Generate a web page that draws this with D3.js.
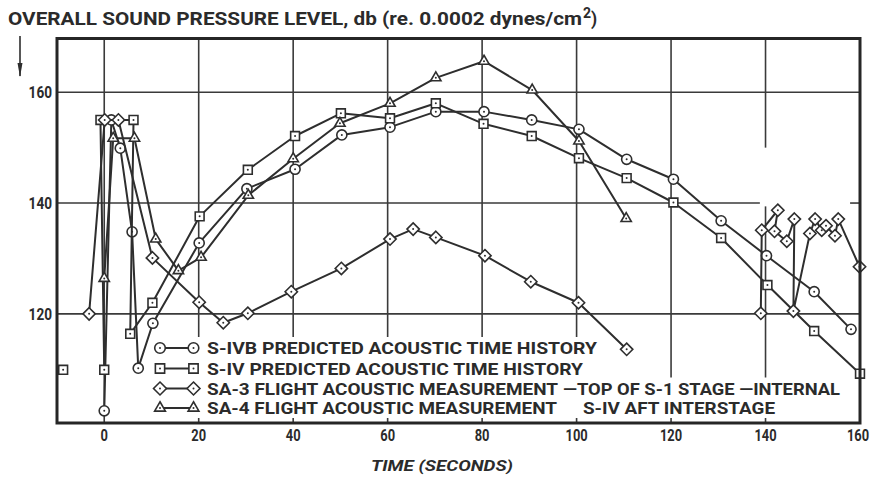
<!DOCTYPE html>
<html>
<head>
<meta charset="utf-8">
<script src="https://cdn.jsdelivr.net/npm/d3@7"></script>
<style>
  body { margin: 0; background: #fff; }
  svg text {
    font-family: Roboto, 'Liberation Sans', sans-serif;
    font-weight: bold;
    fill: #2b2b2b;
  }
</style>
</head>
<body>
<svg width="873" height="477"></svg>
<script>
// [time (s), overall SPL (db)] -- null breaks a line
const sIVB = [
  [0, 102.5], [1.5, 155], [3.4, 149.9], [5.9, 134.8], [7.2, 110.2], [10.3, 118.3],
  [20.1, 132.8], [30.2, 142.6], [40.4, 146.1], [50.3, 152.3], [60.5, 153.7],
  [70.2, 156.5], [80.4, 156.5], [90.5, 155], [100.5, 153.3], [110.6, 147.9],
  [120.5, 144.3], [130.6, 136.8], [140.2, 130.5], [150.3, 124], [158.1, 117.2]
]
const sIV = [
  [-8.7, 109.9], null,
  [0, 109.9], [-0.8, 155], [6.2, 155], [5.5, 116.4], [10.2, 122],
  [20.2, 137.6], [30.4, 146], [40.4, 152.1], [50.1, 156.2], [60.5, 155.3],
  [70.2, 158], [80.3, 154.3], [90.5, 152.1], [100.5, 148.1], [110.6, 144.5],
  [120.5, 140.1], [130.6, 133.7], [140.4, 125.2], [150.3, 116.9], [160, 109.2]
]
const sa3 = [
  [-3.2, 120], [0.1, 155], [3, 155], [10.2, 130.1], [20.1, 122.1], [25.2, 118.4],
  [30.4, 120.1], [39.6, 124], [50.2, 128.2], [60.5, 133.5], [65.4, 135.3],
  [70.2, 133.8], [80.6, 130.5], [90.3, 125.8], [100.4, 122], [110.6, 113.6], null,
  [139, 120.1], [139.2, 135.1], [142.6, 138.7], [141.9, 134.9], [144.5, 133.1],
  [146.1, 137.1], [145.9, 120.5], [149.4, 134.5], [150.5, 137.1], [151.9, 135.1],
  [152.8, 135.9], [154.7, 134.1], [155.4, 137.1], [159.9, 128.5]
]
const sa4 = [
  [0, 126.4], [1.9, 151.7], [6.4, 151.7], [10.9, 133.5], [15.7, 127.8], [20.5, 130.2],
  [30.5, 141.4], [40, 148], [49.9, 154.4], [60.5, 158], [70.2, 162.6], [80.4, 165.6],
  [90.6, 160.4], [100.5, 151.2], [110.5, 137.2]
]

const xTicks = [0, 20, 40, 60, 80, 100, 120, 140, 160]
const yTicks = [120, 140, 160]
const gridX = [0, 20, 40, 60, 80, 100, 120, 140]
const gridY = [120, 140, 160]
// pieces of grid that are blank in the original
const gridGaps = [
  { dir: 'v', at: 140, from: 139.4, to: 150 },
  { dir: 'h', at: 140, from: 138.8, to: 157.9 }
]

const legendLabels = [
  ['S-IVB PREDICTED ACOUSTIC TIME HISTORY'],
  ['S-IV PREDICTED ACOUSTIC TIME HISTORY'],
  ['SA-3 FLIGHT ACOUSTIC MEASUREMENT', '\u2014TOP OF S-1 STAGE \u2014INTERNAL'],
  ['SA-4 FLIGHT ACOUSTIC MEASUREMENT', 'S-IV AFT INTERSTAGE']
]

const titleText = 'OVERALL SOUND PRESSURE LEVEL, db (re. 0.0002 dynes/cm'
const xTitle = 'TIME (SECONDS)'

const svg = d3.select('svg')
const ink = '#2e2e2e'

const x = d3.scaleLinear().domain([-10, 160]).range([57, 860])
const y = d3.scaleLinear().domain([100.3, 169.7]).range([423, 38.5])
const [x0, x1] = x.domain()
const [y0, y1] = y.domain()

const diamond = {
  draw(ctx, size) {
    const r = Math.sqrt(size / 2)
    ctx.moveTo(0, -r)
    ctx.lineTo(r, 0)
    ctx.lineTo(0, r)
    ctx.lineTo(-r, 0)
    ctx.closePath()
  }
}

const series = [
  { data: sIVB, type: d3.symbolCircle, size: 80 },
  { data: sIV, type: d3.symbolSquare, size: 78 },
  { data: sa3, type: diamond, size: 76 },
  { data: sa4, type: d3.symbolTriangle, size: 46 }
]

// grid
function pieces(dir, at, lo, hi) {
  const gap = gridGaps.find(g => g.dir === dir && g.at === at)
  return gap ? [[lo, gap.from], [gap.to, hi]] : [[lo, hi]]
}
const grid = svg.append('g').attr('stroke', '#3a3a3a').attr('stroke-width', 1.6)
gridX.forEach(t => {
  pieces('v', t, y0, y1).forEach(p => {
    grid.append('line')
      .attr('x1', x(t)).attr('x2', x(t))
      .attr('y1', y(p[0])).attr('y2', y(p[1]))
  })
})
gridY.forEach(v => {
  pieces('h', v, x0, x1).forEach(p => {
    grid.append('line')
      .attr('y1', y(v)).attr('y2', y(v))
      .attr('x1', x(p[0])).attr('x2', x(p[1]))
  })
})

// legend (white boxes knock out the grid behind the lettering)
const rowY = [348, 368.5, 388.5, 408]
const spans = [[[207, 597]], [[207, 583]], [[207, 558], [563, 840]], [[207, 557], [583, 775]]]
const legend = svg.append('g')
legendLabels.forEach((parts, i) => {
  const cy = rowY[i]
  const end = spans[i][spans[i].length - 1][1]
  legend.append('rect')
    .attr('x', 150).attr('y', cy - 11)
    .attr('width', end + 4 - 150).attr('height', 21)
    .attr('fill', '#fff')
})
legendLabels.forEach((parts, i) => {
  const cy = rowY[i]
  const s = series[i]
  legend.append('line')
    .attr('x1', 160).attr('x2', 193.5)
    .attr('y1', cy).attr('y2', cy)
    .attr('stroke', ink).attr('stroke-width', 2)
  ;[160, 193.5].forEach(cx => {
    legend.append('path')
      .attr('d', d3.symbol().type(s.type).size(s.size * 1.1)())
      .attr('transform', `translate(${cx},${cy})`)
      .attr('fill', '#fff').attr('stroke', ink).attr('stroke-width', 1.6)
    legend.append('circle')
      .attr('cx', cx).attr('cy', cy).attr('r', 1).attr('fill', ink)
  })
  parts.forEach((txt, j) => {
    const [a, b] = spans[i][j]
    legend.append('text')
      .attr('x', a).attr('y', cy + 6.2)
      .attr('font-size', 16.5)
      .attr('textLength', b - a)
      .attr('lengthAdjust', 'spacingAndGlyphs')
      .text(txt)
  })
})

// data lines and markers
const line = d3.line()
  .defined(d => d)
  .x(d => x(d[0]))
  .y(d => y(d[1]))

series.forEach(s => {
  svg.append('path')
    .attr('d', line(s.data))
    .attr('fill', 'none')
    .attr('stroke', ink)
    .attr('stroke-width', 2)
    .attr('stroke-linejoin', 'round')

  const g = svg.append('g')
    .selectAll('g')
    .data(s.data.filter(d => d))
    .enter()
    .append('g')
    .attr('transform', d => `translate(${x(d[0])},${y(d[1])})`)
  g.append('path')
    .attr('d', d3.symbol().type(s.type).size(s.size)())
    .attr('fill', '#fff')
    .attr('stroke', ink)
    .attr('stroke-width', 1.6)
  g.append('circle').attr('r', 1).attr('fill', ink)
})

// frame
svg.append('rect')
  .attr('x', x(x0)).attr('y', y(y1))
  .attr('width', x(x1) - x(x0)).attr('height', y(y0) - y(y1))
  .attr('fill', 'none').attr('stroke', '#262626').attr('stroke-width', 3)

// tick labels (condensed figures)
const digitW = 7.4
svg.append('g')
  .selectAll('text')
  .data(yTicks)
  .enter()
  .append('text')
  .attr('x', 52)
  .attr('y', d => y(d) + 6)
  .attr('text-anchor', 'end')
  .attr('font-size', 16.5)
  .attr('textLength', d => String(d).length * 7.8)
  .attr('lengthAdjust', 'spacingAndGlyphs')
  .text(d => d)

svg.append('g')
  .selectAll('text')
  .data(xTicks)
  .enter()
  .append('text')
  .attr('x', d => Math.min(x(d), 858))
  .attr('y', 441)
  .attr('text-anchor', 'middle')
  .attr('font-size', 16)
  .attr('textLength', d => String(d).length * digitW)
  .attr('lengthAdjust', 'spacingAndGlyphs')
  .text(d => d)

// titles
svg.append('text')
  .attr('x', 8).attr('y', 25)
  .attr('font-size', 17.5)
  .attr('textLength', 574)
  .attr('lengthAdjust', 'spacingAndGlyphs')
  .text(titleText)
svg.append('text').attr('x', 583).attr('y', 18).attr('font-size', 14).text('2')
svg.append('text').attr('x', 591).attr('y', 25).attr('font-size', 17.5).text(')')

svg.append('text')
  .attr('x', 371).attr('y', 471)
  .attr('font-size', 15.5)
  .attr('font-style', 'italic')
  .attr('textLength', 142)
  .attr('lengthAdjust', 'spacingAndGlyphs')
  .text(xTitle)

// the little down arrow under the title
svg.append('path')
  .attr('d', 'M20,36 V76')
  .attr('stroke', ink).attr('stroke-width', 1.6)
svg.append('path')
  .attr('d', 'M17.5,63 L20,77 L22.5,63 Z')
  .attr('fill', ink)
</script>
</body>
</html>
